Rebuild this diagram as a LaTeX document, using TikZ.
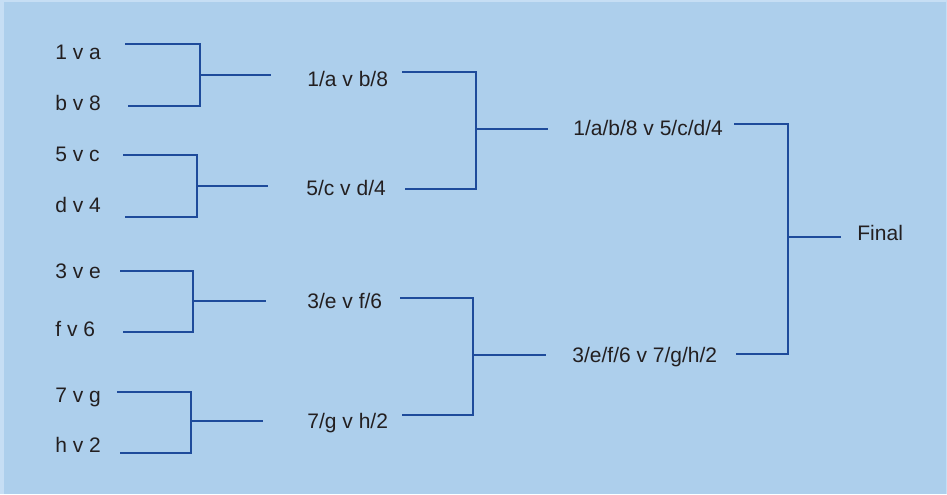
\documentclass[tikz,border=0pt]{standalone}
\usepackage{fontspec}
\setmainfont{Liberation Sans}
\usepackage{xcolor}
\definecolor{panelblue}{RGB}{173,207,236}
\definecolor{edgeblue}{RGB}{198,222,244}
\definecolor{linkblue}{RGB}{30,75,155}
\definecolor{textgrey}{RGB}{35,31,32}

\begin{document}
\begin{tikzpicture}[x=0.5pt,y=-0.5pt,
  team/.style={anchor=base west,inner sep=0pt,text=textgrey,font=\fontsize{10.5}{12}\selectfont},
  link/.style={draw=linkblue,line width=1pt}]
				% Panel
				\fill[edgeblue] (0,0) rectangle (947,494);
				\fill[panelblue] (4,2) rectangle (946,494);
				\useasboundingbox (0,0) rectangle (947,494);
				
				% First round
				\node[team] (m1) at (55,59) {1 v a};
				\node[team] (m2) at (55,110) {b v 8};
				\node[team] (m3) at (55,161) {5 v c};
				\node[team] (m4) at (55,212) {d v 4};
				\node[team] (m5) at (55,278) {3 v e};
				\node[team] (m6) at (55,336) {f v 6};
				\node[team] (m7) at (55,402) {7 v g};
				\node[team] (m8) at (55,452) {h v 2};
				\coordinate (m1e) at (125,44);
				\coordinate (m2e) at (128,106);
				\coordinate (m3e) at (123,155);
				\coordinate (m4e) at (125,217);
				\coordinate (m5e) at (120,271);
				\coordinate (m6e) at (123,332);
				\coordinate (m7e) at (117,392);
				\coordinate (m8e) at (120,453);
				\coordinate (j1) at (200,75);
				\coordinate (j2) at (197,186);
				\coordinate (j3) at (193,301);
				\coordinate (j4) at (191,421);
				\coordinate (s1) at (271,75);
				\coordinate (s2) at (268,186);
				\coordinate (s3) at (266,301);
				\coordinate (s4) at (263,421);
				\draw[link] (m1e) -| (j1) |- (m2e);
				\draw[link] (m3e) -| (j2) |- (m4e);
				\draw[link] (m5e) -| (j3) |- (m6e);
				\draw[link] (m7e) -| (j4) |- (m8e);
				\draw[link] (j1) -- (s1);
				\draw[link] (j2) -- (s2);
				\draw[link] (j3) -- (s3);
				\draw[link] (j4) -- (s4);
				
				% Semi-finals
				\node[team] (q1) at (307,86) {1/a v b/8};
				\node[team] (q2) at (306,195) {5/c v d/4};
				\node[team] (q3) at (307,308) {3/e v f/6};
				\node[team] (q4) at (307,428) {7/g v h/2};
				\coordinate (q1e) at (402,72);
				\coordinate (q2e) at (405,189);
				\coordinate (q3e) at (400,298);
				\coordinate (q4e) at (402,415);
				\coordinate (k1) at (476,129);
				\coordinate (k2) at (473,355);
				\coordinate (t1) at (548,129);
				\coordinate (t2) at (546,355);
				\draw[link] (q1e) -| (k1) |- (q2e);
				\draw[link] (q3e) -| (k2) |- (q4e);
				\draw[link] (k1) -- (t1);
				\draw[link] (k2) -- (t2);
				
				% Finalists
				\node[team] (f1) at (573,135) {1/a/b/8 v 5/c/d/4};
				\node[team] (f2) at (572,362) {3/e/f/6 v 7/g/h/2};
				\coordinate (f1e) at (734,124);
				\coordinate (f2e) at (736,354);
				\coordinate (w) at (788,237);
				\coordinate (we) at (841,237);
				\draw[link] (f1e) -| (w) |- (f2e);
				\draw[link] (w) -- (we);
				\node[team] (fin) at (857,240) {Final};
			\end{tikzpicture}
\end{document}
